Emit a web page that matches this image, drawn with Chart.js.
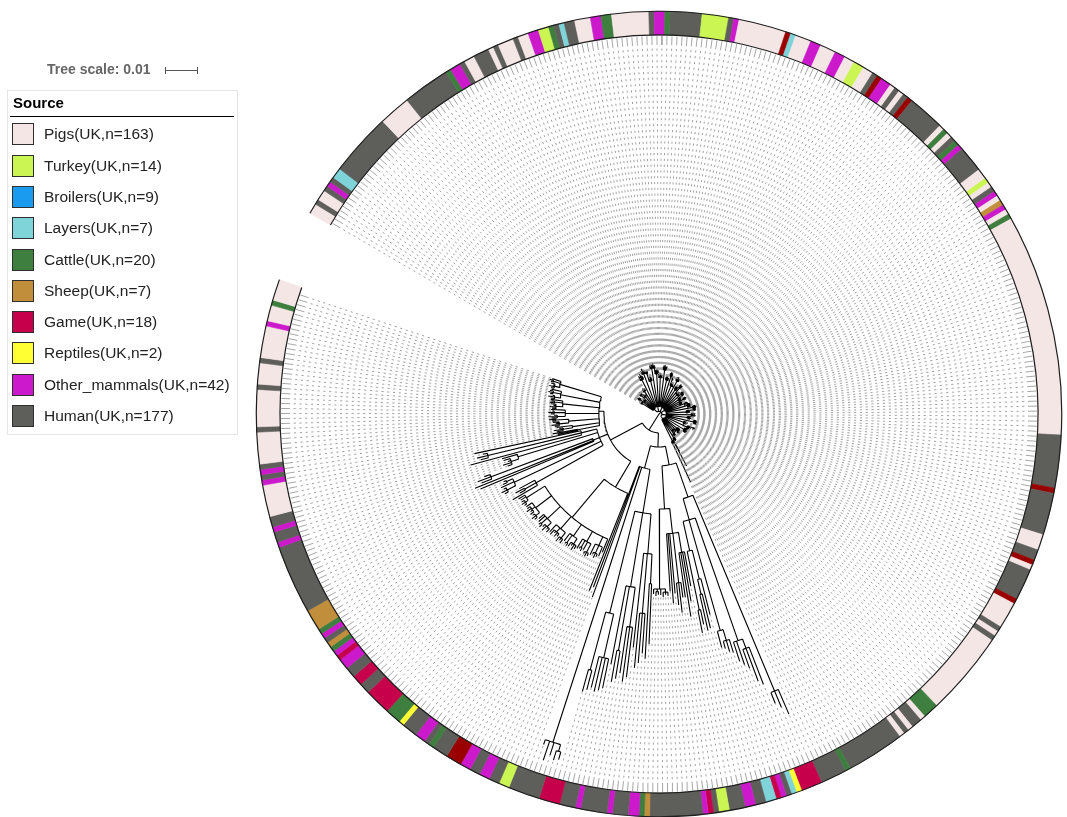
<!DOCTYPE html>
<html>
<head>
<meta charset="utf-8">
<title>Source tree</title>
<script src="https://cdn.jsdelivr.net/npm/chart.js@4.4.1/dist/chart.umd.min.js"></script>
<style>
  html, body { margin: 0; padding: 0; background: #fff; }
  #wrap { position: relative; width: 1067px; height: 817px; overflow: hidden;
          font-family: "Liberation Sans", Arial, sans-serif; }
  #wrap canvas { position: absolute; left: 0; top: 0; }
  #scaleText { position: absolute; left: 47px; top: 61px; font-weight: bold; font-size: 14px;
               line-height: 16px; color: #666; white-space: nowrap; }
  #scaleBar { position: absolute; left: 165px; top: 70px; height: 1px; background: #555; }
  #scaleBar::before, #scaleBar::after { content: ''; position: absolute; top: -3px; width: 1px; height: 7px; background: #555; }
  #scaleBar::before { left: 0; }
  #scaleBar::after { right: 0; }
  #legend { position: absolute; left: 7px; top: 90px; width: 229px; height: 343px;
            border: 1px solid #e4e4e4; background: #fff; }
  #legend .title { position: absolute; left: 5px; top: 3px; font-weight: bold; font-size: 15px;
                   line-height: 17px; color: #000; }
  #legend .rule { position: absolute; left: 2px; width: 224px; top: 25px; height: 1px; background: #000; }
  #legend .item { position: absolute; left: 4px; height: 22px; width: 222px; }
  #legend .sw { position: absolute; left: 0; top: 0; width: 22px; height: 22px; box-sizing: border-box;
                border: 1px solid #2f2f2f; }
  #legend .lb { position: absolute; left: 32px; top: 2px; font-size: 15.5px; line-height: 18px;
                color: #222; white-space: nowrap; }
</style>
</head>
<body>
<div id="wrap">
  <canvas id="ring" width="1067" height="817"></canvas>
  <canvas id="tree" width="1067" height="817"></canvas>
  <div id="scaleText"></div>
  <div id="scaleBar"></div>
  <div id="legend"><div class="title">Source</div><div class="rule"></div></div>
</div>
<script>
// ---------------- Sources ----------------
const sourceKeys   = ['P', 'T', 'B', 'L', 'C', 'S', 'G', 'R', 'M', 'H'];
const sourceNames  = ['Pigs', 'Turkey', 'Broilers', 'Layers', 'Cattle', 'Sheep', 'Game', 'Reptiles', 'Other_mammals', 'Human'];
const sourceCounts = [163, 14, 9, 7, 20, 7, 18, 2, 42, 177];
const legendColors = ['#f5e6e6', '#cbf553', '#1a9bef', '#7fd4da', '#3e7e3e', '#c18e3b', '#c7004c', '#ffff33', '#cb19cb', '#5e5f5a'];
const ringColors   = ['#f5e6e6', '#cbf553', '#9a0000', '#7fd4da', '#3e7e3e', '#c18e3b', '#c7004c', '#ffff33', '#cb19cb', '#5e5f5a'];

// Source of every tip, clockwise from the first tip, as runs: key + number of tips
const ringRuns = [
  'P2','H1','P2','H1','M1','H1','L2','H12','P6','H9','C1','M2','H1','P2','H3','P1','H1','P3','H1','P2',
  'M2','T2','C1','H1','L1','H2','P3','M2','C2','P7','H1','M2','C1','H6','T5','H1','M1','P9','B1','L1',
  'P3','M2','P3','M2','P2','T2','P2','H1','B1','M2','P1','H1','P1','H1','B1','H7','P1','C1','P1','H1',
  'C1','M1','H5','P2','T1','P1','H1','M1','P1','S1','M1','P1','C1','P42','H10','B1','H8','P3','H2','B1',
  'P1','H6','B1','P5','H1','P1','H1','P16','C3','P1','H2','P1','H1','P1','H11','C1','H5','G4','R1','L1',
  'H1','M1','G1','L2','H2','M2','H3','T2','H1','G1','M1','H10','S1','C1','M2','H3','M1','H5','M1','H3',
  'G4','H6','T2','H2','M2','H2','M2','B3','H3','C1','H1','M2','H3','R1','C3','G5','H2','G2','H2','M2',
  'G1','M1','C1','S1','H1','M1','C1','S4','H13','M1','H2','M1','H2','P6','M1','H1','M1','H1','P6','H1',
  'P7','H1','P4','H1','P6','M1','P3','C1','P4'
];

// ---------------- Tree (branch lengths in 1e-3 substitutions/site) ----------------
// internal node: [length, child, child, ...]   tip: length
const bushClade = [0.9,
  [1.2,
    [4.0, 0.6, 1.0, 0.4, 0.8, 1.2, 0.5],
    [5.2, 0.8, 0.3, 1.1, 0.6, 0.9, 0.4, 0.7],
    [3.6, 0.5, 0.9, 0.3, 1.2, 0.6],
    [5.8, 1.0, 0.4, 0.8, 0.6, 1.3, 0.5, 0.9, 0.7],
    [4.6, 0.7, 1.1, 0.4, 0.9, 0.5, 0.8],
    [6.2, 0.6, 0.9, 0.4, 1.2, 0.7, 0.5, 1.0, 0.8]],
  [1.5,
    [9.5, 0.8, 1.5, 0.5, 1.1, 2.0, 0.7, 1.3, 0.9],
    [11.0, 1.2, 0.6, 1.8, 0.9, 1.4, 0.5, 1.0],
    [8.2, [2.5, 0.5, 0.9, 0.4, 1.1], 0.7, 1.6, 0.9, 1.2, 0.6],
    [12.0, 0.9, 1.4, 0.6, 1.2, 0.8, 1.7],
    [10.2, [1.8, 0.6, 1.0, 0.5], 1.2, 0.8, 1.5, 0.7, 1.1],
    [9.0, 1.1, 0.6, 1.6, 0.9, 1.3, 0.5, 1.0],
    [11.5, 0.8, 1.3, 0.6, 1.5, 1.0, 0.7, 1.2]],
  [1.4,
    [8.5, 0.7, 1.2, 0.5, 1.0, 1.5, 0.6, 0.9],
    [10.0, 1.0, 0.6, 1.4, 0.8, 1.1, 0.5],
    [7.2, [2.0, 0.6, 1.0, 0.4], 0.9, 1.3, 0.7, 1.1, 0.5],
    [9.4, 0.8, 1.2, 0.6, 1.4, 0.9, 0.7, 1.0],
    [6.8, 1.1, 0.7, 1.5, 0.9, 0.6, 1.2],
    [8.0, 0.9, 1.3, 0.6, 1.0, 0.8, 1.1]],
  [1.2,
    [6.0, 0.7, 1.1, 0.5, 0.9, 1.3, 0.6, 0.8],
    [7.2, 0.9, 0.5, 1.2, 0.7, 1.0, 0.6],
    [5.4, [1.6, 0.5, 0.8, 0.4], 0.8, 1.1, 0.6, 1.0, 0.7],
    [6.6, 1.0, 0.6, 1.3, 0.8, 0.5, 1.1],
    [5.0, 0.8, 1.2, 0.6, 1.0, 0.7, 0.9],
    [6.4, 0.6, 1.0, 0.8, 1.2, 0.5, 0.9]],
  [1.4,
    [7.0, 0.8, 1.2, 0.5, 1.0, 1.4, 0.6, 0.9, 1.1],
    [8.4, 1.0, 0.6, 1.3, 0.8, 1.1, 0.5, 0.9],
    [6.2, [2.2, 0.6, 1.0, 0.5, 0.8], 1.1, 0.7, 1.3, 0.9, 0.6],
    [7.8, 0.9, 1.3, 0.6, 1.1, 0.8, 1.4, 0.7, 1.0],
    [6.6, 1.2, 0.7, 1.0, 0.5, 1.3, 0.8, 0.9],
    [8.8, 0.7, 1.1, 0.9, 1.3, 0.6, 1.0, 0.8, 1.2],
    [5.8, 1.0, 0.6, 1.4, 0.8, 1.1, 0.7, 0.9],
    [7.4, [1.8, 0.5, 0.9, 0.6], 1.0, 1.3, 0.7, 1.1, 0.8, 0.6],
    [6.8, 0.9, 1.2, 0.6, 1.0, 0.8, 1.4, 0.7, 1.1, 0.5, 1.0]],
  [1.0,
    [5.2, 0.8, 1.1, 0.5, 0.9, 1.3, 0.6, 1.0],
    [6.0, 0.7, 1.0, 0.5, 1.2, 0.8, 0.6],
    [4.6, 1.0, 0.6, 1.2, 0.8, 0.5, 1.1, 0.7],
    [5.6, 0.9, 0.6, 1.1, 0.7, 1.3, 0.8],
    [6.8, 0.6, 1.0, 0.8, 1.2, 0.5, 0.9, 0.7],
    [7.5, 4.0, 9.0, 0.6, 1.2, 0.8, 14.0, 1.0]]
];

const longBranchClade = [4.4,
  [5.9,
    [11.3,
      [66.3, 8.4, 5.6, 3.7],
      [6.9,
        [40.6, [3.1, 12.5, 11.0, 6.3], 7.8, 6.3],
        [35.9, [3.5, 4.3, 3.7, 2.4], 5.3],
        [9.4, [9.3, 11.6, [4.7, 11.0, 11.6]], [18.7, 4.7, 7.2]]]],
    [13.5,
      [7.8, [6.3, 10.9, 15.6, 20.3, 14.0], [15.6, 4.7, 9.4, 6.9], 18.8, 21.9, 18.1],
      [25.0, [1.0, 1.2, 0.8, 1.5], 1.9, [0.8, 1.0, 1.4], 1.6]]],
  [7.2,
    [13.8,
      [12.5, [9.3, 18.8, 23.5], [18.7, 12.5, 15.6, 17.2], 29.6],
      [23.4, [12.5, 15.6, 17.2, 14.7], [20.3, 8.8, 10.0], 25.0],
      [32.8, [14.0, 9.4, 10.3, 11.0, 10.0], [18.7, 6.3, 7.2]]],
    [90.3, [2.2, 2.5, 3.1], 4.1, 6.3, 1.6],
    43.4, 40.3]
];

const sideClade = [11.3,
  [9.4, 32.8,
    [15.6, 4.5,
      [3.0, 3.0, [2.6, 1.0, 1.6, 0.6], 3.8],
      [3.6, [3.0, 0.9, 1.5, 0.5], 2.8, [2.4, 1.2, 0.7], 3.4],
      [4.4, [2.0, 1.2, 2.0, 0.8, 1.5], [2.8, 1.0, 0.6], 2.9],
      [5.0, [2.2, 1.5, 0.8, 1.8], [1.6, 1.0, 1.6, 0.7, 1.9], 3.0],
      [5.6, [1.8, 1.4, 0.6, 2.0, 1.0], [2.4, 1.2, 0.8], 2.6, 2.0],
      [6.2, [1.5, 1.0, 1.6, 0.6], [1.2, 1.4, 0.8, 1.8, 1.1], 2.2],
      [6.8, [1.0, 0.8, 1.4, 1.0], 1.9, 2.3]]],
  [2.8,
    [24.0, 9.0, [4.0, 2.0, 3.2], 5.5],
    [30.0, [3.0, 1.2, 2.0, 0.8], 4.5, [2.0, 1.5, 1.0]],
    [2.0, 38.5, 40.0, [34.0, 3.5, 4.5, 2.0]],
    [26.0, [2.5, 1.5, 2.8, 1.0, 2.2], 5.0],
    [5.0, 36.0, [30.0, 2.5, 3.5, 1.5], 34.0]],
  [1.6,
    [7.0, 6.5, 8.0],
    [8.5, [3.0, 2.0, 3.0, 1.2], 5.0],
    [9.5, [3.0, 1.5, 2.5, 1.0, 2.0], [4.0, 1.2, 2.2]],
    [10.5, [2.5, 1.8, 2.8, 1.0], [3.5, 1.0, 1.8, 0.6], 4.5],
    [11.5, [2.0, 1.2, 2.0, 0.8, 1.6], [2.6, 1.5, 1.0], 3.8],
    [12.5, [1.8, 1.0, 2.0, 0.7], [2.5, 0.8, 1.5, 1.1], 3.2],
    [13.5, [1.5, 0.9, 1.6, 0.6, 1.3], [2.2, 0.8, 1.4], 2.8]]
];

const treeSpec = [0, bushClade, [5.9, longBranchClade, sideClade]];

const TREE_SCALE = 0.01;         // length of the scale bar, substitutions/site
const LEN_UNIT = 0.001;          // unit of the branch lengths above

// ---------------- Geometry ----------------
const PX_PER_SUB = 3200;         // 0.01 substitutions/site = 32 px
const PAD = { left: 256, right: 5, top: 11, bottom: 0 };
const RING_OUTER_PX = 403;
const RING_INNER_PX = 379;
const RING_ROTATION = -60.1;     // degrees, Chart.js doughnut convention
const RING_SWEEP = 349.6;        // degrees

// ---------------- Legend & scale ----------------
document.getElementById('scaleText').textContent = 'Tree scale: ' + TREE_SCALE;
document.getElementById('scaleBar').style.width = (TREE_SCALE * PX_PER_SUB + 1) + 'px';
const legendEl = document.getElementById('legend');
sourceNames.forEach((name, k) => {
  const row = document.createElement('div');
  row.className = 'item';
  row.style.top = (32.3 + k * 31.3) + 'px';
  const sw = document.createElement('span');
  sw.className = 'sw';
  sw.style.background = legendColors[k];
  const lb = document.createElement('span');
  lb.className = 'lb';
  lb.textContent = name + '(UK,n=' + sourceCounts[k] + ')';
  row.appendChild(sw);
  row.appendChild(lb);
  legendEl.appendChild(row);
});

// ---------------- Ring (doughnut) ----------------
const ringValues = [], ringFill = [], ringLabels = [];
ringRuns.forEach(tok => {
  const k = sourceKeys.indexOf(tok[0]);
  ringValues.push(parseInt(tok.slice(1), 10));
  ringFill.push(ringColors[k]);
  ringLabels.push(sourceNames[k]);
});
const N_TIPS = ringValues.reduce((a, b) => a + b, 0);

const ringOutline = {
  id: 'ringOutline',
  afterDatasetsDraw(chart) {
    const arcs = chart.getDatasetMeta(0).data;
    const first = arcs[0], last = arcs[arcs.length - 1];
    const ctx = chart.ctx;
    ctx.save();
    ctx.strokeStyle = '#1e1e1e';
    ctx.lineWidth = 1.2;
    ctx.beginPath();
    ctx.arc(first.x, first.y, first.outerRadius, first.startAngle, last.endAngle);
    ctx.stroke();
    ctx.beginPath();
    ctx.arc(first.x, first.y, first.innerRadius, first.startAngle, last.endAngle);
    ctx.stroke();
    ctx.restore();
  }
};

new Chart(document.getElementById('ring'), {
  type: 'doughnut',
  data: {
    labels: ringLabels,
    datasets: [{ data: ringValues, backgroundColor: ringFill, borderColor: ringFill, borderWidth: 0.6, hoverOffset: 0 }]
  },
  options: {
    responsive: false,
    animation: false,
    events: [],
    rotation: RING_ROTATION,
    circumference: RING_SWEEP,
    cutout: RING_INNER_PX,
    layout: { padding: PAD },
    plugins: { legend: { display: false }, tooltip: { enabled: false } }
  },
  plugins: [ringOutline]
});

// ---------------- Tree layout (circular) ----------------
let tipCounter = 0;
function build(spec) {
  if (typeof spec === 'number') return { len: spec * LEN_UNIT, tip: tipCounter++, children: null };
  return { len: spec[0] * LEN_UNIT, children: spec.slice(1).map(build) };
}
const root = build(treeSpec);

const startRad = (RING_ROTATION - 90) * Math.PI / 180;
const sweepRad = RING_SWEEP * Math.PI / 180;
function tipAngle(i) { return startRad + (i + 0.5) * sweepRad / N_TIPS; }

function place(node, parentD) {
  node.d = parentD + node.len;
  if (!node.children) { node.a = tipAngle(node.tip); return; }
  node.children.forEach(c => place(c, node.d));
  node.a = (node.children[0].a + node.children[node.children.length - 1].a) / 2;
}
place(root, 0);

const dLeadOuter = (RING_INNER_PX - 1) / PX_PER_SUB;
const dStubEnd = (RING_INNER_PX - 10) / PX_PER_SUB;
const dDashStart = (RING_INNER_PX - 13.5) / PX_PER_SUB;

const branchPts = [], dashPts = [], stubPts = [];
const pt = (d, a) => ({ x: d * Math.cos(a), y: d * Math.sin(a) });
const gap = () => ({ x: NaN, y: NaN });

function walk(node, parentD, isRoot) {
  if (!isRoot) branchPts.push(pt(parentD, node.a), pt(node.d, node.a), gap());
  if (node.children) {
    const a0 = node.children[0].a, a1 = node.children[node.children.length - 1].a;
    if (node.d > 0) {
      const steps = Math.max(2, Math.ceil(Math.abs(a1 - a0) * node.d * PX_PER_SUB / 2));
      for (let s = 0; s <= steps; s++) branchPts.push(pt(node.d, a0 + (a1 - a0) * s / steps));
      branchPts.push(gap());
    }
    node.children.forEach(c => walk(c, node.d, false));
  } else {
    stubPts.push(pt(dLeadOuter, node.a), pt(dStubEnd, node.a), gap());
    if (node.d < dDashStart) dashPts.push(pt(dDashStart, node.a), pt(node.d, node.a), gap());
  }
}
walk(root, 0, true);

const RMAX = RING_OUTER_PX / PX_PER_SUB;

new Chart(document.getElementById('tree'), {
  type: 'scatter',
  data: {
    datasets: [
      { label: 'leaders', data: dashPts, showLine: true, borderColor: '#a2a2a2', borderWidth: 1,
        borderDash: [2.2, 3.6], pointRadius: 0, spanGaps: false, fill: false, borderCapStyle: 'butt' },
      { label: 'leader ends', data: stubPts, showLine: true, borderColor: '#a6a6a6', borderWidth: 1,
        pointRadius: 0, spanGaps: false, fill: false },
      { label: 'branches', data: branchPts, showLine: true, borderColor: '#000', borderWidth: 1.1,
        pointRadius: 0, spanGaps: false, fill: false }
    ]
  },
  options: {
    responsive: false,
    animation: false,
    events: [],
    layout: { padding: PAD },
    scales: {
      x: { type: 'linear', min: -RMAX, max: RMAX, display: false },
      y: { type: 'linear', min: -RMAX, max: RMAX, display: false, reverse: true }
    },
    plugins: { legend: { display: false }, tooltip: { enabled: false } }
  }
});
</script>
</body>
</html>
